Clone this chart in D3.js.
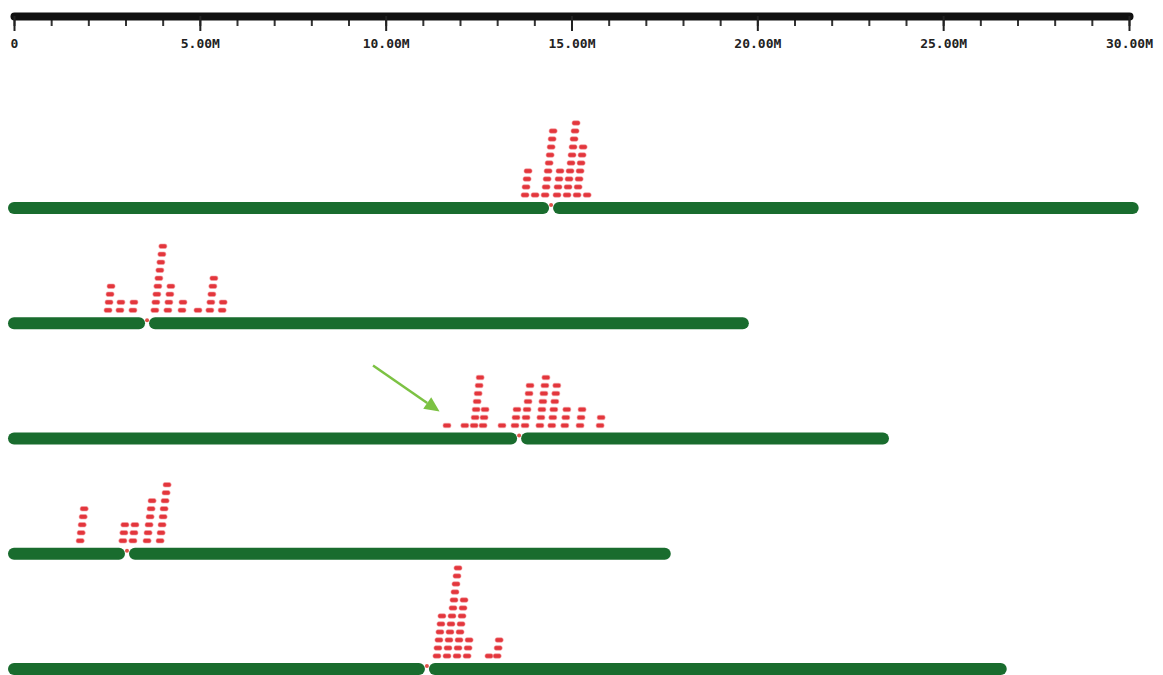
<!DOCTYPE html>
<html>
<head>
<meta charset="utf-8">
<script src="https://cdn.jsdelivr.net/npm/d3@7"></script>
<style>
  body { margin: 0; background: #fff; }
  svg { display: block; }
</style>
</head>
<body>
<div id="chart"></div>
<script>
// chromosome layout (Mb)
const chromNames = ["Chr1", "Chr2", "Chr3", "Chr4", "Chr5"];
const chromLengths = [30.1, 19.61, 23.38, 17.51, 26.55];
const centromeres = [14.45, 3.58, 13.59, 3.04, 11.11];

// marker bins (Mb) and how many markers are stacked in each
const chr1Pos = [13.75, 14.02, 14.29, 14.61, 14.88, 15.15, 15.42];
const chr1Count = [4, 1, 9, 4, 10, 7, 1];
const chr2Pos = [2.53, 2.85, 3.2, 3.79, 4.14, 4.52, 4.95, 5.27, 5.6];
const chr2Count = [4, 2, 2, 9, 4, 2, 1, 5, 2];
const chr3Pos = [11.65, 12.13, 12.38, 12.62, 13.13, 13.48, 13.75, 14.15, 14.47, 14.82, 15.23, 15.77];
const chr3Count = [1, 1, 7, 3, 1, 3, 6, 7, 6, 3, 3, 2];
const chr4Pos = [1.78, 2.93, 3.2, 3.58, 3.93];
const chr4Count = [5, 3, 3, 6, 8];
const chr5Pos = [11.38, 11.65, 11.92, 12.19, 12.78, 13.0];
const chr5Count = [6, 12, 8, 3, 1, 3];

const majorTicks = [0, 5, 10, 15, 20, 25, 30];
const minorTicks = d3.range(0, 31, 1);

// arrow annotation on Chr3, [Mb, offset above chromosome]
const arrowFrom = [9.66, -73];
const arrowTo = [11.45, -27];

const width = 1163, height = 675;
const GREEN = "#196c2e", RED = "#e3363c";

const svg = d3.select("#chart").append("svg")
  .attr("width", width).attr("height", height);

const x = d3.scaleLinear().domain([0, 30]).range([14, 1129]);
const y = d3.scalePoint().domain(chromNames).range([208, 669]);

// ruler
const axisG = svg.append("g").attr("transform", "translate(0,16)");
axisG.call(d3.axisBottom(x).tickValues(minorTicks).tickSize(10).tickSizeOuter(0).tickFormat(""));
axisG.selectAll(".tick line").attr("stroke", "#333").attr("stroke-width", 2);
axisG.select(".domain").remove();

const majorG = svg.append("g").attr("transform", "translate(0,16)");
majorG.call(d3.axisBottom(x).tickValues(majorTicks).tickSize(15).tickSizeOuter(0).tickPadding(8)
  .tickFormat(d => d === 0 ? "0" : d.toFixed(2) + "M"));
majorG.select(".domain")
  .attr("stroke", "#111").attr("stroke-width", 8).attr("stroke-linecap", "round");
majorG.selectAll(".tick line").attr("stroke", "#222").attr("stroke-width", 2);
majorG.selectAll(".tick text")
  .attr("fill", "#222")
  .style("font-family", "'DejaVu Sans Mono', monospace")
  .style("font-weight", "bold")
  .style("font-size", "13px");

// chromosomes
const chroms = chromNames.map((name, i) => ({ name, len: chromLengths[i], cen: centromeres[i] }));
const arms = chroms.flatMap(c => [
  { name: c.name, x0: x(0), x1: x(c.cen) - 8 },
  { name: c.name, x0: x(c.cen) + 8, x1: x(c.len) }
]);

svg.append("g").selectAll("line")
  .data(arms)
  .join("line")
  .attr("x1", d => d.x0).attr("x2", d => d.x1)
  .attr("y1", d => y(d.name)).attr("y2", d => y(d.name))
  .attr("stroke", GREEN)
  .attr("stroke-width", 12)
  .attr("stroke-linecap", "round");

svg.append("g").selectAll("circle")
  .data(chroms)
  .join("circle")
  .attr("cx", d => x(d.cen))
  .attr("cy", d => y(d.name) - 3)
  .attr("r", 2)
  .attr("fill", "#e0524a");

// marker stacks
const bins = [
  [chr1Pos, chr1Count], [chr2Pos, chr2Count], [chr3Pos, chr3Count],
  [chr4Pos, chr4Count], [chr5Pos, chr5Count]
];
const dashes = bins.flatMap(([pos, cnt], i) =>
  pos.flatMap((p, j) => d3.range(cnt[j]).map(k => ({ chrom: chromNames[i], pos: p, level: k }))));

const DASH_W = 8, DASH_H = 4.5, PITCH = 8, SLANT = 1;
svg.append("g").selectAll("rect")
  .data(dashes)
  .join("rect")
  .attr("x", d => x(d.pos) - DASH_W / 2 + d.level * SLANT)
  .attr("y", d => y(d.chrom) - 13 - d.level * PITCH - DASH_H / 2)
  .attr("width", DASH_W)
  .attr("height", DASH_H)
  .attr("rx", 1.8)
  .attr("fill", RED)
  .attr("stroke", "#f5a0a4")
  .attr("stroke-width", 0.6);

// green arrow
const ax0 = x(arrowFrom[0]), ay0 = y("Chr3") + arrowFrom[1];
const ax1 = x(arrowTo[0]), ay1 = y("Chr3") + arrowTo[1];
const ang = Math.atan2(ay1 - ay0, ax1 - ax0);
const headLen = 15, headW = 7;
const bx = ax1 - headLen * Math.cos(ang), by = ay1 - headLen * Math.sin(ang);
svg.append("line")
  .attr("x1", ax0).attr("y1", ay0).attr("x2", bx).attr("y2", by)
  .attr("stroke", "#7cc243").attr("stroke-width", 2.5);
svg.append("path")
  .attr("d", d3.line()([
    [ax1, ay1],
    [bx + headW * Math.sin(ang), by - headW * Math.cos(ang)],
    [bx - headW * Math.sin(ang), by + headW * Math.cos(ang)]
  ]) + "Z")
  .attr("fill", "#7cc243");
</script>
</body>
</html>
